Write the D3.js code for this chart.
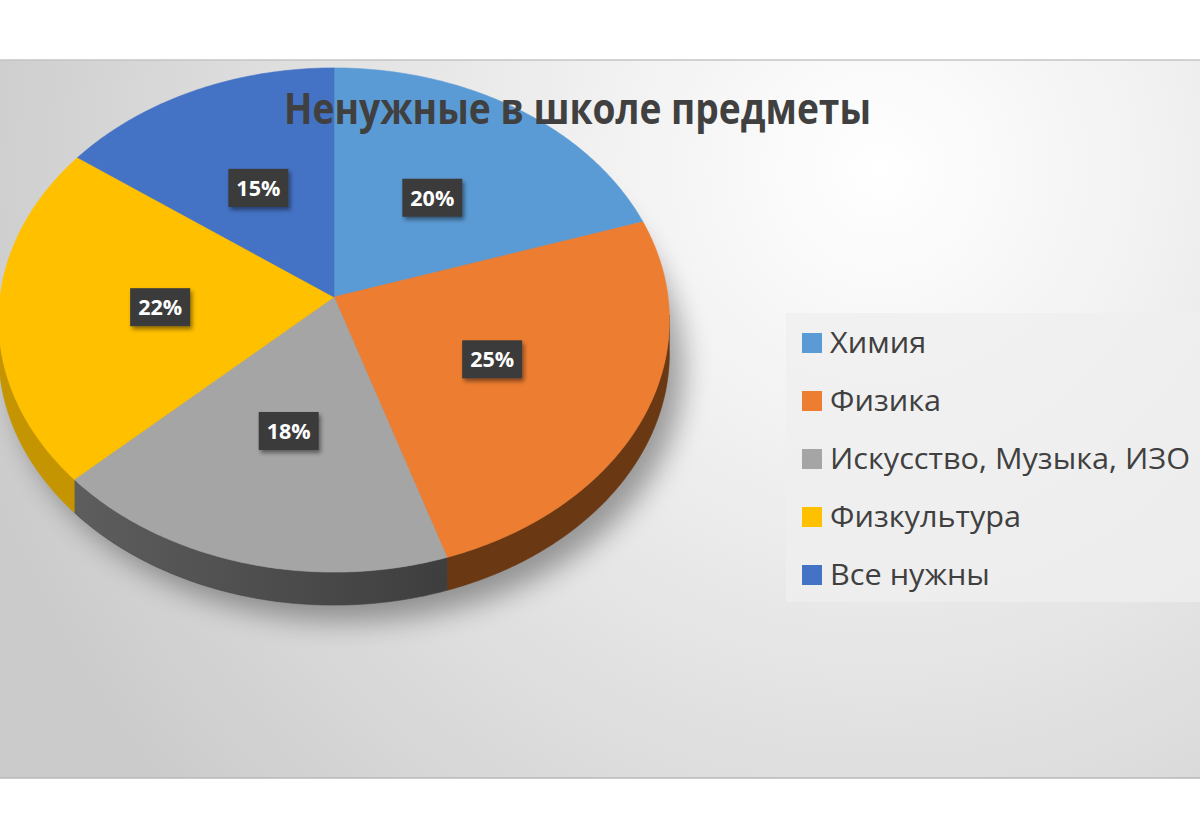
<!DOCTYPE html>
<html lang="ru">
<head>
<meta charset="UTF-8">
<title>Ненужные в школе предметы</title>
<style>
  html, body { margin: 0; padding: 0; background: #fff; }
  svg { display: block; font-family: "Open Sans", "Noto Sans", sans-serif; }
</style>
</head>
<body>
<script src="https://cdn.jsdelivr.net/npm/d3@7"></script>
<script>
const width = 1200, height = 831

// data
const categories = ["Химия", "Физика", "Искусство, Музыка, ИЗО", "Физкультура", "Все нужны"]
const values = [20, 25, 18, 22, 15]
const title = "Ненужные в школе предметы"

const topColor = d3.scaleOrdinal().domain(categories)
  .range(["#5b9bd5", "#ed7d31", "#a5a5a5", "#ffc000", "#4472c4"])
const sideColor = d3.scaleOrdinal().domain(categories)
  .range(["#2f5f8c", "#6a3813", "#474747", "#c49500", "#2a4a85"])

const svg = d3.select("body").append("svg")
  .attr("width", width).attr("height", height)

const defs = svg.append("defs")
const bg = defs.append("radialGradient").attr("id", "bg")
  .attr("gradientUnits", "userSpaceOnUse")
  .attr("cx", 880).attr("cy", 170).attr("r", 950)
bg.append("stop").attr("offset", 0).attr("stop-color", "#ffffff")
bg.append("stop").attr("offset", 0.3).attr("stop-color", "#f1f1f1")
bg.append("stop").attr("offset", 1).attr("stop-color", "#cbcbcb")

const greySide = defs.append("linearGradient").attr("id", "greyside")
  .attr("gradientUnits", "userSpaceOnUse").attr("x1", 70).attr("x2", 445).attr("y1", 0).attr("y2", 0)
greySide.append("stop").attr("offset", 0).attr("stop-color", "#5e5e5e")
greySide.append("stop").attr("offset", 1).attr("stop-color", "#3e3e3e")

const blur = defs.append("filter").attr("id", "shadow")
  .attr("x", "-30%").attr("y", "-30%").attr("width", "160%").attr("height", "160%")
blur.append("feGaussianBlur").attr("stdDeviation", 14)

const boxShadow = defs.append("filter").attr("id", "boxshadow")
  .attr("x", "-30%").attr("y", "-30%").attr("width", "160%").attr("height", "160%")
boxShadow.append("feDropShadow").attr("dx", 2).attr("dy", 3)
  .attr("stdDeviation", 2).attr("flood-color", "#000").attr("flood-opacity", 0.45)

// chart area
svg.append("rect").attr("x", 0).attr("y", 60).attr("width", width).attr("height", 718)
  .attr("fill", "url(#bg)")
svg.append("line").attr("x1", 0).attr("x2", width).attr("y1", 60).attr("y2", 60)
  .attr("stroke", "#c4c4c4").attr("stroke-width", 1.5)
svg.append("line").attr("x1", 0).attr("x2", width).attr("y1", 778).attr("y2", 778)
  .attr("stroke", "#b9b9b9").attr("stroke-width", 1.5)

// perspective pie
const cx = 334, cy = 297, rx = 334, ry = 250, persp = -0.0913, depth = 33

function proj(theta, r, dy) {
  const v = -Math.cos(theta) * r
  const s = 1 + persp * v
  return [cx + rx * Math.sin(theta) * r / s, cy + ry * v / s + dy]
}
function arcPts(a0, a1, r, dy) {
  const n = Math.max(2, Math.ceil((a1 - a0) / 0.01))
  return d3.range(n + 1).map(i => proj(a0 + (a1 - a0) * i / n, r, dy))
}
const line = d3.line()

const arcs = d3.pie().sort(null).value(d => d)(values)
arcs.forEach((d, i) => d.cat = categories[i])

// shadow under the pie
svg.append("path")
  .attr("d", line(arcPts(0, 2 * Math.PI, 1, depth)) + "Z")
  .attr("transform", "translate(14,16)")
  .attr("fill", "#000").attr("opacity", 0.35)
  .attr("filter", "url(#shadow)")

// side walls (only front part is visible)
const vis0 = Math.acos(persp), vis1 = 2 * Math.PI - Math.acos(persp)
const g = svg.append("g")
arcs.forEach(d => {
  const a0 = Math.max(d.startAngle, vis0 - 0.02), a1 = Math.min(d.endAngle, vis1 + 0.02)
  if (a1 <= a0) return
  const pts = arcPts(a0, a1, 1, 0).concat(arcPts(a0, a1, 1, depth).reverse())
  g.append("path").attr("d", line(pts) + "Z")
    .attr("fill", d.cat === categories[2] ? "url(#greyside)" : sideColor(d.cat))
    .attr("stroke", d.cat === categories[2] ? "#444" : sideColor(d.cat)).attr("stroke-width", 0.6)
})

// top faces
g.selectAll("path.top").data(arcs).join("path")
  .attr("class", "top")
  .attr("d", d => line([proj(0, 0, 0)].concat(arcPts(d.startAngle, d.endAngle, 1, 0))) + "Z")
  .attr("fill", d => topColor(d.cat))
  .attr("stroke", d => topColor(d.cat)).attr("stroke-width", 0.6)

// data labels
const lab = svg.append("g").selectAll("g").data(arcs).join("g")
  .attr("transform", d => {
    const p = proj((d.startAngle + d.endAngle) / 2, 0.52, 2)
    return `translate(${p[0]},${p[1]})`
  })
lab.append("rect").attr("x", -30).attr("y", -19).attr("width", 60).attr("height", 38)
  .attr("fill", "#3a3a3a").attr("filter", "url(#boxshadow)")
lab.append("text").attr("text-anchor", "middle").attr("y", 8)
  .attr("fill", "#fff").attr("font-weight", 700).attr("font-size", 21)
  .attr("textLength", 44).attr("lengthAdjust", "spacingAndGlyphs")
  .text(d => d.data + "%")

// title
svg.append("text").attr("x", 577.5).attr("y", 124)
  .attr("text-anchor", "middle").attr("fill", "#404040")
  .attr("font-weight", 700).attr("font-size", 43)
  .attr("textLength", 587).attr("lengthAdjust", "spacingAndGlyphs")
  .text(title)

// legend
svg.append("rect").attr("x", 786).attr("y", 313).attr("width", 414).attr("height", 289)
  .attr("fill", "#efefef").attr("opacity", 0.75)
const leg = svg.append("g").selectAll("g").data(categories).join("g")
  .attr("transform", (d, i) => `translate(802,${343 + i * 58})`)
leg.append("rect").attr("x", 0).attr("y", -10).attr("width", 20).attr("height", 20)
  .attr("fill", d => topColor(d))
const legText = leg.append("text").attr("x", 28).attr("y", 10)
  .attr("fill", "#404040").attr("font-size", 29)
  .text(d => d)
// stretch so the longest entry spans the same width as in the reference
let widest = 0
legText.each(function () { widest = Math.max(widest, this.getComputedTextLength()) })
const k = 360 / widest
legText.each(function () {
  d3.select(this).attr("textLength", this.getComputedTextLength() * k)
    .attr("lengthAdjust", "spacingAndGlyphs")
})
</script>
</body>
</html>
